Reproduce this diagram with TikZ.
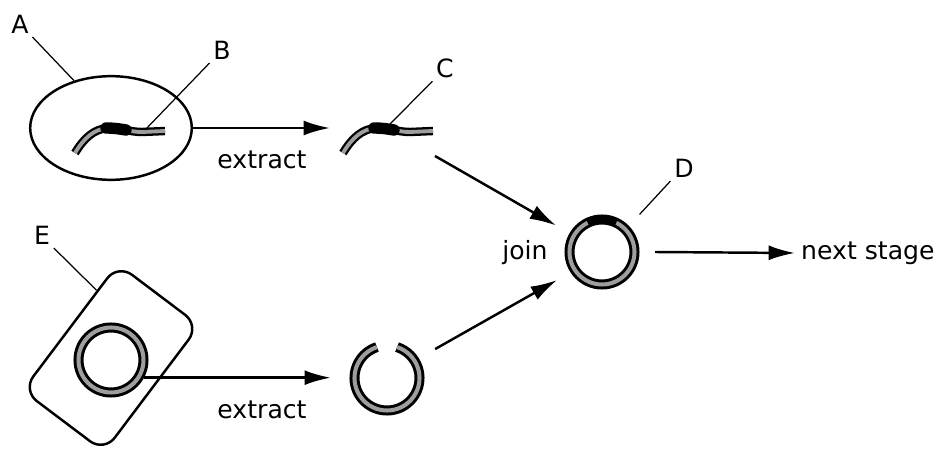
\documentclass[tikz,border=0pt]{standalone}
\usepackage{fontspec}
\setmainfont{DejaVu Sans}
\usetikzlibrary{arrows.meta, shapes.geometric}
\definecolor{band}{gray}{0.62}

\begin{document}
\begin{tikzpicture}[x=0.02cm, y=0.02cm, font=\fontsize{14.3}{17}\selectfont,
    arr/.style={line width=1.4pt, -{Latex[length=15pt,width=8.5pt]}},
    lead/.style={line width=0.7pt},
    lbl/.style={inner sep=2pt},
    strand/.style={line width=1.3pt, double=band, double distance=2.2pt},
    ring/.style={line width=1.7pt, double=band, double distance=2.3pt}]
    \useasboundingbox (0,0) rectangle (938,450);

    % top row: cell, fragment, extracted fragment
    \node[draw, ellipse, line width=1.4pt, minimum width=92pt, minimum height=59pt, inner sep=0pt] (cell) at (111,322) {};
    \foreach \dx in {0,268} {
        \draw[strand, shift={(\dx,0)}] (75,297) .. controls (84,312) and (94,321) .. (108,322)
            .. controls (122,322) and (130,318) .. (142,318) -- (165,319);
        \draw[line width=6.5pt, line cap=round, shift={(\dx,0)}] (106,322) .. controls (114,322) and (120,321) .. (126,320);
    }
    \coordinate (fragB) at (145,320);
    \coordinate (fragC) at (390,326);
    \coordinate (tipC) at (330,322);
    \coordinate (outC) at (435,294);

    \node[lbl] (labA) at (20,426) {A};
    \node[lbl] (labB) at (222,400) {B};
    \node[lbl] (labC) at (445,382) {C};
    \draw[lead] (labA.south east) -- (cell.128);
    \draw[lead] (labB.south west) -- (fragB);
    \draw[lead] (labC.south west) -- (fragC);

    \draw[arr] (cell.east) -- (tipC);
    \node (ext1) at (262,290) {extract};

    % joined ring
    \node[circle, minimum size=60pt, inner sep=0pt] (ringD) at (602,198) {};
    \draw[ring] (ringD.center) circle (32.5);
    \draw[line width=3pt] ([shift={(64:32.5)}]ringD.center) arc (64:116:32.5);
    \node (join) at (525,197) {join};
    \node[lbl] (labD) at (684,282) {D};
    \draw[lead] (labD.south west) -- (ringD.45);
    \node[anchor=west] (next) at (795,197) {next stage};
    \draw[arr] (outC) -- (ringD.150);
    \draw[arr] (ringD.east) -- (next.west);

    % bottom row: cell with ring, opened ring
    \node[draw, rounded corners=10pt, rotate=-37, minimum width=58pt, minimum height=90pt, line width=1.4pt] (cellE) at (111,92) {};
    \node[circle, minimum size=42.5pt, inner sep=0pt] (ringE) at (111,90) {};
    \draw[ring] (ringE.center) circle (32.5);
    \node[lbl] (labE) at (42,215) {E};
    \draw[lead] (labE.south east) -- (cellE.139);

    \node[circle, minimum size=63.5pt, inner sep=0pt] (gap) at (387,72) {};
    \draw[ring] ([shift={(108:32.5)}]gap.center) arc (108:432:32.5);
    \draw[arr] (ringE.-28) -- (ringE.-28 -| gap.west);
    \node (ext2) at (262,40) {extract};
    \draw[arr] (gap.31) -- (ringD.212);
\end{tikzpicture}
\end{document}
